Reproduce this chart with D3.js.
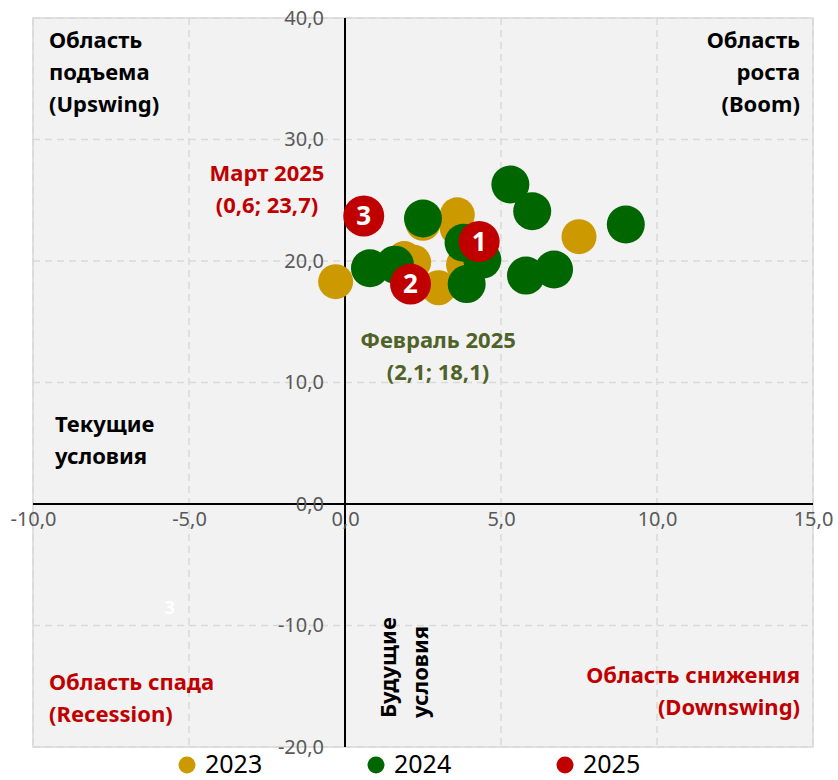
<!DOCTYPE html>
<html>
<head>
<meta charset="utf-8">
<script src="https://cdn.jsdelivr.net/npm/d3@7"></script>
<style>
  body { margin: 0; background: #fff; }
  svg { display: block; font-family: "Noto Sans", sans-serif; }
</style>
</head>
<body>
<div id="chart"></div>
<script>
// x = current conditions, y = future conditions
var series_names = ['2023', '2024', '2025'];
var series_colors = ['#cc9900', '#006600', '#c00000'];

var points_2023 = [
  [-0.3, 18.3], [3.6, 23.8], [3.6, 22.7], [2.5, 23.1], [7.5, 22.0],
  [1.9, 20.2], [2.2, 19.9], [3.0, 17.8], [3.8, 19.7]
];
var points_2024 = [
  [5.3, 26.3], [6.0, 24.1], [9.0, 23.0], [2.5, 23.5], [3.8, 21.5],
  [4.4, 20.1], [0.8, 19.4], [1.6, 19.7], [3.9, 18.1], [5.8, 18.8], [6.7, 19.3]
];
var points_2025 = [[4.3, 21.6], [2.1, 18.1], [0.6, 23.7]];
var labels_2025 = ['1', '2', '3'];

var x_ticks = [-10, -5, 0, 5, 10, 15];
var y_ticks = [-20, -10, 0, 10, 20, 30, 40];

var width = 838,
    height = 780,
    plot_l = 33, plot_r = 813, plot_t = 18, plot_b = 747;

var svg = d3.select('#chart').append('svg')
  .attr('width', width)
  .attr('height', height);

var x = d3.scaleLinear().domain([-10, 15]).range([plot_l, plot_r]),
    y = d3.scaleLinear().domain([-20, 40]).range([plot_b, plot_t]);

function fmt(d) {
  return d.toFixed(1).replace('.', ',');
}

// plot background
svg.append('rect')
  .attr('x', plot_l).attr('y', plot_t)
  .attr('width', plot_r - plot_l).attr('height', plot_b - plot_t)
  .attr('fill', '#f2f2f2')
  .attr('stroke', '#d9d9d9')
  .attr('stroke-width', 1.5);

// dashed grid
var grid = svg.append('g')
  .attr('stroke', '#d9d9d9')
  .attr('stroke-width', 1.5)
  .attr('stroke-dasharray', '7,5');

grid.selectAll('line.v').data(x_ticks.filter(function(d) { return d !== 0; }))
  .enter().append('line')
  .attr('x1', function(d) { return x(d); }).attr('x2', function(d) { return x(d); })
  .attr('y1', plot_t).attr('y2', plot_b);

grid.selectAll('line.h').data(y_ticks.filter(function(d) { return d !== 0; }))
  .enter().append('line')
  .attr('y1', function(d) { return y(d); }).attr('y2', function(d) { return y(d); })
  .attr('x1', plot_l).attr('x2', plot_r);

// zero lines
svg.append('line')
  .attr('x1', plot_l).attr('x2', plot_r)
  .attr('y1', y(0)).attr('y2', y(0))
  .attr('stroke', '#000').attr('stroke-width', 2);
svg.append('line')
  .attr('x1', x(0)).attr('x2', x(0))
  .attr('y1', plot_t).attr('y2', plot_b)
  .attr('stroke', '#000').attr('stroke-width', 2);

// axes (labels only)
var x_axis = svg.append('g')
  .attr('transform', 'translate(0,' + y(0) + ')')
  .call(d3.axisBottom(x).tickValues(x_ticks).tickFormat(fmt).tickSize(0).tickPadding(8));
var y_axis = svg.append('g')
  .attr('transform', 'translate(' + x(0) + ',0)')
  .call(d3.axisLeft(y).tickValues(y_ticks).tickFormat(fmt).tickSize(0).tickPadding(21));

[x_axis, y_axis].forEach(function(a) {
  a.select('.domain').remove();
  a.selectAll('text')
    .attr('font-family', '"Noto Sans", sans-serif')
    .attr('font-size', 20)
    .attr('fill', '#595959');
});

// bubbles
function bubbles(data, color, r) {
  svg.append('g').selectAll('circle').data(data)
    .enter().append('circle')
    .attr('cx', function(d) { return x(d[0]); })
    .attr('cy', function(d) { return y(d[1]); })
    .attr('r', r)
    .attr('fill', color);
}

bubbles(points_2023, series_colors[0], 17.5);
bubbles(points_2024, series_colors[1], 19);
bubbles(points_2025, series_colors[2], 20.5);

svg.append('g').selectAll('text').data(points_2025)
  .enter().append('text')
  .attr('x', function(d) { return x(d[0]); })
  .attr('y', function(d) { return y(d[1]); })
  .attr('dy', '0.36em')
  .attr('text-anchor', 'middle')
  .attr('font-size', 26)
  .attr('font-weight', 'bold')
  .attr('fill', '#fff')
  .text(function(d, i) { return labels_2025[i]; });

// text blocks
function block(lines, px, py, anchor, color, size) {
  var t = svg.append('text')
    .attr('text-anchor', anchor)
    .attr('font-weight', 'bold')
    .attr('font-size', size || 22)
    .attr('fill', color);
  lines.forEach(function(s, i) {
    t.append('tspan').attr('x', px).attr('y', py + i * 32).text(s);
  });
  return t;
}

block(['Область', 'подъема', '(Upswing)'], 49, 48, 'start', '#000');
block(['Область', 'роста', '(Boom)'], 800, 48, 'end', '#000');
block(['Текущие', 'условия'], 55, 432, 'start', '#000');
block(['Область спада', '(Recession)'], 49, 690, 'start', '#c00000');
block(['Область снижения', '(Downswing)'], 800, 683, 'end', '#c00000');
block(['Март 2025', '(0,6; 23,7)'], 267, 181, 'middle', '#c00000');
block(['Февраль 2025', '(2,1; 18,1)'], 438, 348, 'middle', '#4f6228');

var fut = svg.append('text')
  .attr('transform', 'translate(396,718) rotate(-90)')
  .attr('font-weight', 'bold')
  .attr('font-size', 22)
  .attr('fill', '#000');
fut.append('tspan').attr('x', 0).attr('y', 0).text('Будущие');
fut.append('tspan').attr('x', 0).attr('y', 32).text('условия');

svg.append('text')
  .attr('x', 170).attr('y', 608).attr('dy', '0.36em')
  .attr('text-anchor', 'middle')
  .attr('font-size', 18)
  .attr('font-weight', 'bold')
  .attr('fill', '#fff')
  .text('3');

// legend
var legend_x = [187, 376, 565];
var legend = svg.append('g').selectAll('g').data(series_names)
  .enter().append('g')
  .attr('transform', function(d, i) { return 'translate(' + legend_x[i] + ',765)'; });
legend.append('circle')
  .attr('r', 8.5)
  .attr('fill', function(d, i) { return series_colors[i]; });
legend.append('text')
  .attr('x', 18).attr('y', 8)
  .attr('font-size', 25)
  .attr('fill', '#000')
  .text(function(d) { return d; });
</script>
</body>
</html>
